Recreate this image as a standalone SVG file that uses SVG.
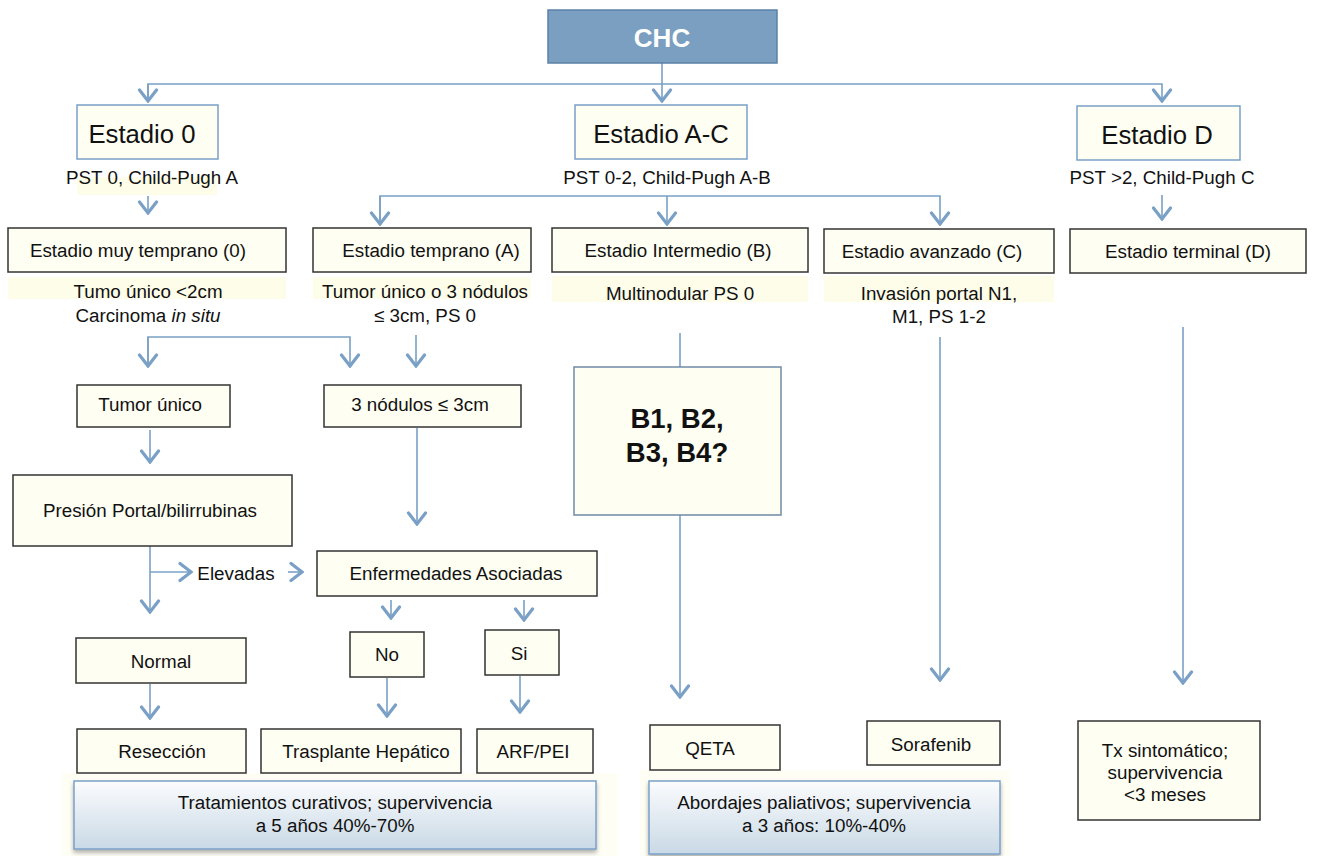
<svg xmlns="http://www.w3.org/2000/svg" width="1327" height="856" viewBox="0 0 1327 856">
<defs>
<marker id="ah" viewBox="-2 -11 15 22" refX="11" refY="0" markerWidth="15" markerHeight="22" markerUnits="userSpaceOnUse" orient="auto">
<path d="M0,-8.5 L11,0 L0,8.5" fill="none" stroke="#7aa0c6" stroke-width="3.2" stroke-linecap="round" stroke-linejoin="miter"/>
</marker>
<linearGradient id="bg" x1="0" y1="0" x2="0" y2="1">
<stop offset="0" stop-color="#fbfcfd"/>
<stop offset="1" stop-color="#c9d9e6"/>
</linearGradient>
<filter id="sh" x="-5%" y="-10%" width="110%" height="130%">
<feDropShadow dx="0" dy="3" stdDeviation="2" flood-color="#000" flood-opacity="0.3"/>
</filter>
</defs>
<style>
text{font-family:"Liberation Sans",Arial,sans-serif;fill:#111;text-anchor:middle;font-size:18.8px}
.big{font-size:25.7px}
.bold{font-size:27.5px;font-weight:bold}
.box{fill:#fefef2;stroke:#333;stroke-width:1.5}
.bbox{fill:#fefef2;stroke:#7aa0c8;stroke-width:1.5}
.hl{fill:#fdfde9}
.hl2{fill:#fefef5}
.gbox{fill:url(#bg);stroke:#7aa0c8;stroke-width:1.5;filter:url(#sh)}
.c{fill:none;stroke:#7aa0c6;stroke-width:1.6}
</style>
<rect width="1327" height="856" fill="#fff"/>

<!-- highlights -->
<rect class="hl" x="77" y="177" width="140" height="18"/>
<rect class="hl" x="8" y="277" width="278" height="22"/>
<rect class="hl" x="313" y="277" width="218" height="22"/>
<rect class="hl" x="552" y="276" width="256" height="26"/>
<rect class="hl" x="824" y="276" width="230" height="26"/>
<rect class="hl2" x="62" y="773" width="555" height="83"/>
<rect class="hl2" x="640" y="770" width="370" height="86"/>

<g id="connectors">
<path class="c" d="M662,63 V101" marker-end="url(#ah)"/>
<path class="c" d="M148,101 V84 H1162 V101" marker-end="url(#ah)"/>
<path class="c" d="M148,84 V101" marker-end="url(#ah)"/>
<path class="c" d="M148,196 V213" marker-end="url(#ah)"/>
<path class="c" d="M380,224 V196 H940 V224" marker-end="url(#ah)"/>
<path class="c" d="M380,196 V224" marker-end="url(#ah)"/>
<path class="c" d="M667,196 V224" marker-end="url(#ah)"/>
<path class="c" d="M1162,195 V219" marker-end="url(#ah)"/>
<path class="c" d="M148,366 V337 H350 V366" marker-end="url(#ah)"/>
<path class="c" d="M148,337 V366" marker-end="url(#ah)"/>
<path class="c" d="M416,335 V366" marker-end="url(#ah)"/>
<path class="c" d="M150,430 V462" marker-end="url(#ah)"/>
<path class="c" d="M417,428 V524" marker-end="url(#ah)"/>
<path class="c" d="M150,546 V612" marker-end="url(#ah)"/>
<path class="c" d="M150,572 H191" marker-end="url(#ah)"/>
<path class="c" d="M288,572 H302" marker-end="url(#ah)"/>
<path class="c" d="M391,600 V618" marker-end="url(#ah)"/>
<path class="c" d="M524,600 V620" marker-end="url(#ah)"/>
<path class="c" d="M150,684 V718" marker-end="url(#ah)"/>
<path class="c" d="M387,678 V716" marker-end="url(#ah)"/>
<path class="c" d="M520,676 V712" marker-end="url(#ah)"/>
<path class="c" d="M680,333 V367"/>
<path class="c" d="M680,515 V697" marker-end="url(#ah)"/>
<path class="c" d="M940,337 V680" marker-end="url(#ah)"/>
<path class="c" d="M1183,327 V683" marker-end="url(#ah)"/>
</g>

<g id="chc">
<rect x="548" y="10" width="229" height="53" fill="#7a9fc0" stroke="#5b81a8" stroke-width="1.5"/>
<text x="662" y="47" style="font-size:26px;font-weight:bold;fill:#fff">CHC</text>
</g>

<g id="estadio0">
<rect class="bbox" x="77" y="105" width="141" height="54"/>
<text class="big" x="142" y="143">Estadio 0</text>
<text x="152" y="184">PST 0, Child-Pugh A</text>
</g>
<g id="estadioAC">
<rect class="bbox" x="575" y="105" width="172" height="54"/>
<text class="big" x="661" y="143">Estadio A-C</text>
<text x="667" y="184">PST 0-2, Child-Pugh A-B</text>
</g>
<g id="estadioD">
<rect class="bbox" x="1077" y="106" width="163" height="54"/>
<text class="big" x="1157" y="144">Estadio D</text>
<text x="1162" y="184">PST &gt;2, Child-Pugh C</text>
</g>

<g id="muytemprano">
<rect class="box" x="8" y="228" width="278" height="44"/>
<text x="138" y="257">Estadio muy temprano (0)</text>
<text x="148" y="298">Tumo único &lt;2cm</text>
<text x="148" y="322">Carcinoma <tspan font-style="italic">in situ</tspan></text>
</g>
<g id="temprano">
<rect class="box" x="313" y="228" width="218" height="44"/>
<text x="431" y="257">Estadio temprano (A)</text>
<text x="425" y="298">Tumor único o 3 nódulos</text>
<text x="425" y="322">≤ 3cm, PS 0</text>
</g>
<g id="intermedio">
<rect class="box" x="552" y="228" width="256" height="44"/>
<text x="678" y="257">Estadio Intermedio (B)</text>
<text x="680" y="300">Multinodular PS 0</text>
</g>
<g id="avanzado">
<rect class="box" x="824" y="229" width="230" height="44"/>
<text x="932" y="258">Estadio avanzado (C)</text>
<text x="939" y="300">Invasión portal N1,</text>
<text x="939" y="323">M1, PS 1-2</text>
</g>
<g id="terminal">
<rect class="box" x="1070" y="229" width="236" height="44"/>
<text x="1188" y="258">Estadio terminal (D)</text>
</g>

<g id="tumorunico">
<rect class="box" x="77" y="385" width="153" height="42"/>
<text x="150" y="411">Tumor único</text>
</g>
<g id="tresnodulos">
<rect class="box" x="324" y="385" width="197" height="42"/>
<text x="420" y="411">3 nódulos ≤ 3cm</text>
</g>
<g id="presion">
<rect class="box" x="13" y="475" width="279" height="71"/>
<text x="150" y="517">Presión Portal/bilirrubinas</text>
</g>
<text x="236" y="580">Elevadas</text>
<g id="enfermedades">
<rect class="box" x="317" y="551" width="280" height="45"/>
<text x="456" y="580">Enfermedades Asociadas</text>
</g>
<g id="no">
<rect class="box" x="350" y="632" width="74" height="45"/>
<text x="387" y="661">No</text>
</g>
<g id="si">
<rect class="box" x="485" y="630" width="74" height="45"/>
<text x="519" y="660">Si</text>
</g>
<g id="normal">
<rect class="box" x="76" y="638" width="170" height="45"/>
<text x="161" y="668">Normal</text>
</g>
<g id="reseccion">
<rect class="box" x="77" y="729" width="169" height="44"/>
<text x="162" y="758">Resección</text>
</g>
<g id="trasplante">
<rect class="box" x="261" y="729" width="200" height="44"/>
<text x="366" y="758">Trasplante Hepático</text>
</g>
<g id="arf">
<rect class="box" x="477" y="729" width="116" height="44"/>
<text x="533" y="758">ARF/PEI</text>
</g>
<g id="curativos">
<rect class="gbox" x="74" y="781" width="522" height="68"/>
<text x="335" y="809">Tratamientos curativos; supervivencia</text>
<text x="335" y="832">a 5 años 40%-70%</text>
</g>

<g id="b">
<rect x="574" y="367" width="207" height="148" fill="#fefef2" stroke="#6f8aa6" stroke-width="1.5"/>
<text class="bold" x="677" y="428">B1, B2,</text>
<text class="bold" x="677" y="462">B3, B4?</text>
</g>
<g id="qeta">
<rect class="box" x="650" y="725" width="130" height="45"/>
<text x="710" y="755">QETA</text>
</g>
<g id="sorafenib">
<rect class="box" x="867" y="721" width="133" height="44"/>
<text x="931" y="751">Sorafenib</text>
</g>
<g id="paliativos">
<rect class="gbox" x="649" y="781" width="351" height="73"/>
<text x="824" y="809">Abordajes paliativos; supervivencia</text>
<text x="824" y="832">a 3 años: 10%-40%</text>
</g>
<g id="tx">
<rect class="box" x="1078" y="721" width="182" height="99"/>
<text x="1165" y="757">Tx sintomático;</text>
<text x="1165" y="779">supervivencia</text>
<text x="1165" y="801">&lt;3 meses</text>
</g>
</svg>
